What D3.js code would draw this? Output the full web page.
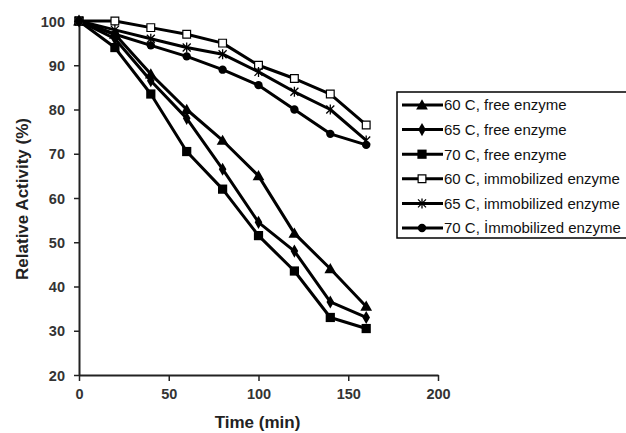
<!DOCTYPE html>
<html>
<head>
<meta charset="utf-8">
<script src="https://cdn.jsdelivr.net/npm/d3@7"></script>
<style>
  body { margin: 0; background: #fff; }
  svg { display: block; font-family: "Liberation Sans", Arial, sans-serif; }
</style>
</head>
<body>
<div id="chart"></div>
<script>
// time points (min)
const times = [0, 20, 40, 60, 80, 100, 120, 140, 160];

// relative activity (%)
const free60 = [100, 97, 88, 80, 73, 65, 52, 44, 35.5];
const free65 = [100, 96, 86.5, 78, 66.5, 54.5, 48, 36.5, 33];
const free70 = [100, 94, 83.5, 70.5, 62, 51.5, 43.5, 33, 30.5];
const imm60 = [100, 100, 98.5, 97, 95, 90, 87, 83.5, 76.5];
const imm65 = [100, 98, 96, 94, 92.5, 88.5, 84, 80, 73];
const imm70 = [100, 97, 94.5, 92, 89, 85.5, 80, 74.5, 72];

const seriesNames = [
	"60 C, free enzyme",
	"65 C, free enzyme",
	"70 C, free enzyme",
	"60 C, immobilized enzyme",
	"65 C, immobilized enzyme",
	"70 C, İmmobilized enzyme",
];
const xTicks = [0, 50, 100, 150, 200];
const yTicks = [20, 30, 40, 50, 60, 70, 80, 90, 100];

const series = [
	{ name: seriesNames[0], values: free60, marker: "triangle" },
	{ name: seriesNames[1], values: free65, marker: "diamond" },
	{ name: seriesNames[2], values: free70, marker: "square" },
	{ name: seriesNames[3], values: imm60, marker: "openSquare" },
	{ name: seriesNames[4], values: imm65, marker: "star" },
	{ name: seriesNames[5], values: imm70, marker: "circle" },
];

const width = 626;
const height = 433;
const margin = { top: 21, right: 188, bottom: 58, left: 79 };

const svg = d3
	.select("#chart")
	.append("svg")
	.attr("width", width)
	.attr("height", height);

const xScale = d3.scaleLinear().domain([0, 200]).range([margin.left, width - margin.right]);
const yScale = d3.scaleLinear().domain([20, 100]).range([height - margin.bottom, margin.top]);

// axes
const xAxis = svg
	.append("g")
	.attr("transform", `translate(0,${yScale(20)})`)
	.call(d3.axisBottom(xScale).tickValues(xTicks).tickSize(6).tickSizeOuter(0).tickPadding(8));

const yAxis = svg
	.append("g")
	.attr("transform", `translate(${xScale(0)},0)`)
	.call(d3.axisLeft(yScale).tickValues(yTicks).tickSize(5).tickSizeOuter(0).tickPadding(9));

[xAxis, yAxis].forEach((g) => {
	g.select(".domain").attr("stroke", "#222").attr("stroke-width", 2);
	g.selectAll(".tick line").attr("stroke", "#222").attr("stroke-width", 1.5);
	g.selectAll(".tick text")
		.attr("fill", "#333")
		.style("font-size", "14.5px")
		.style("font-weight", "bold");
});
yAxis.selectAll(".tick text").attr("dy", "0.35em");

// axis titles
svg
	.append("text")
	.attr("x", xScale(100) - 1)
	.attr("y", 428)
	.attr("text-anchor", "middle")
	.style("font-size", "17px")
	.style("font-weight", "bold")
	.attr("fill", "#222")
	.text("Time (min)");

svg
	.append("text")
	.attr("transform", `translate(28,${yScale(60) + 1}) rotate(-90)`)
	.attr("text-anchor", "middle")
	.style("font-size", "17px")
	.style("font-weight", "bold")
	.attr("fill", "#222")
	.text("Relative Activity (%)");

// markers
function drawMarker(g, type, x, y) {
	if (type === "triangle") {
		g.append("path")
			.attr("d", d3.symbol(d3.symbolTriangle, 60)())
			.attr("transform", `translate(${x},${y + 1})`)
			.attr("fill", "#000");
	} else if (type === "diamond") {
		g.append("path")
			.attr("d", d3.symbol(d3.symbolDiamond, 50)())
			.attr("transform", `translate(${x},${y})`)
			.attr("fill", "#000");
	} else if (type === "square") {
		g.append("path")
			.attr("d", d3.symbol(d3.symbolSquare, 85)())
			.attr("transform", `translate(${x},${y})`)
			.attr("fill", "#000");
	} else if (type === "openSquare") {
		g.append("path")
			.attr("d", d3.symbol(d3.symbolSquare, 60)())
			.attr("transform", `translate(${x},${y})`)
			.attr("fill", "#fff")
			.attr("stroke", "#000")
			.attr("stroke-width", 1.2);
	} else if (type === "star") {
		const r = 4;
		g.append("path")
			.attr("d", `M${x - r},${y - r}L${x + r},${y + r}M${x - r},${y + r}L${x + r},${y - r}M${x},${y - r - 1}L${x},${y + r + 1}`)
			.attr("stroke", "#000")
			.attr("stroke-width", 1.3)
			.attr("fill", "none");
	} else if (type === "circle") {
		g.append("path")
			.attr("d", d3.symbol(d3.symbolCircle, 55)())
			.attr("transform", `translate(${x},${y})`)
			.attr("fill", "#000");
	}
}

const line = d3
	.line()
	.x((d, i) => xScale(times[i]))
	.y((d) => yScale(d));

const plot = svg.append("g");

series.forEach((s) => {
	plot
		.append("path")
		.datum(s.values)
		.attr("fill", "none")
		.attr("stroke", "#000")
		.attr("stroke-width", 3)
		.attr("stroke-linejoin", "round")
		.attr("d", line);
});

series.forEach((s) => {
	const g = plot.append("g");
	s.values.forEach((v, i) => drawMarker(g, s.marker, xScale(times[i]), yScale(v)));
});

// legend
const legend = svg.append("g");
const legX = 397;
const legY = 92;
const rowH = 24.6;

legend
	.append("rect")
	.attr("x", legX)
	.attr("y", legY)
	.attr("width", 260)
	.attr("height", 146)
	.attr("fill", "#fff")
	.attr("stroke", "#000")
	.attr("stroke-width", 1.5);

series.forEach((s, i) => {
	const cy = legY + 13 + i * rowH;
	legend
		.append("line")
		.attr("x1", legX + 5)
		.attr("x2", legX + 46)
		.attr("y1", cy)
		.attr("y2", cy)
		.attr("stroke", "#000")
		.attr("stroke-width", 3);
	drawMarker(legend, s.marker, legX + 25, cy);
	legend
		.append("text")
		.attr("x", legX + 47)
		.attr("y", cy)
		.attr("dy", "0.36em")
		.style("font-size", "15px")
		.attr("fill", "#111")
		.text(s.name);
});
</script>
</body>
</html>
